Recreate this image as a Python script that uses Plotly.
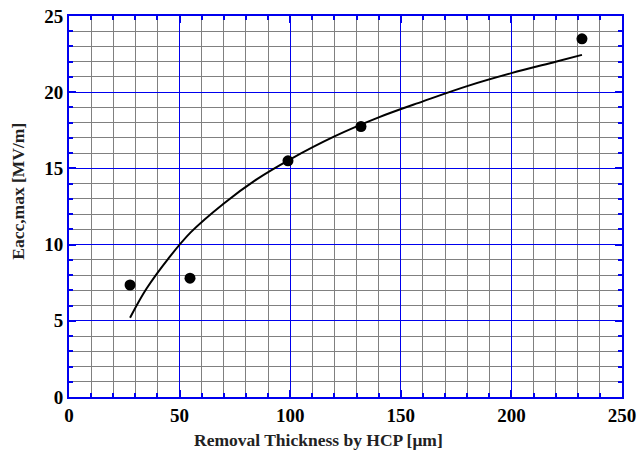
import plotly.graph_objects as go

# Measured data
thickness = [27.6, 54.7, 99.0, 132.0, 231.9]
eacc_max = [7.35, 7.8, 15.5, 17.75, 23.5]

# Fit curve
fit_x = [27.6, 35, 45, 55, 70, 85, 100, 120, 140, 160, 180, 200, 220, 231.9]
fit_y = [5.2, 7.1, 9.1, 10.8, 12.7, 14.3, 15.6, 17.1, 18.35, 19.4, 20.4, 21.25, 22.0, 22.45]

x_ticks = [0, 50, 100, 150, 200, 250]
y_ticks = [0, 5, 10, 15, 20, 25]

BLUE = "#0000EE"
GRAY = "#808080"
FONT = "Liberation Serif"

fig = go.Figure()
fig.add_trace(go.Scatter(x=fit_x, y=fit_y, mode="lines",
                         line=dict(color="black", width=2, shape="spline"),
                         showlegend=False, hoverinfo="skip"))
fig.add_trace(go.Scatter(x=thickness, y=eacc_max, mode="markers",
                         marker=dict(color="black", size=11),
                         showlegend=False))

axis_common = dict(
    showline=True, linecolor=BLUE, linewidth=2, mirror="allticks",
    ticks="inside", ticklen=7, tickwidth=2, tickcolor=BLUE,
    showgrid=True, gridcolor=BLUE, gridwidth=1,
    zeroline=False, automargin=False,
    tickfont=dict(family=FONT, size=19, color="black"),
)

fig.update_xaxes(
    range=[0, 250], tickvals=x_ticks, ticktext=["<b>%d</b>" % v for v in x_ticks],
    minor=dict(dtick=10, tick0=0, showgrid=True, gridcolor=GRAY, gridwidth=1,
               ticks="inside", ticklen=4, tickcolor=BLUE, tickwidth=2),
    **axis_common,
)
fig.update_yaxes(
    range=[0, 25], tickvals=y_ticks, ticktext=["<b>%d</b>" % v for v in y_ticks],
    minor=dict(dtick=1, tick0=0, showgrid=True, gridcolor=GRAY, gridwidth=1,
               ticks="inside", ticklen=4, tickcolor=BLUE, tickwidth=2),
    **axis_common,
)

title_font = dict(family=FONT, size=17.5, color="#222222")
fig.add_annotation(text="<b>Removal Thickness by HCP [μm]</b>", xref="paper", yref="paper",
                   x=0.452, y=-0.113, xanchor="center", yanchor="middle",
                   showarrow=False, font=title_font)
fig.add_annotation(text="<b>Eacc,max [MV/m]</b>", xref="paper", yref="paper",
                   x=-0.092, y=0.539, xanchor="center", yanchor="middle",
                   textangle=-90, showarrow=False, font=title_font)

fig.update_layout(
    width=640, height=451,
    margin=dict(l=69, r=18, t=16, b=54),
    paper_bgcolor="white", plot_bgcolor="white",
    font=dict(family=FONT, color="black"),
)

fig.write_html("out.html")
